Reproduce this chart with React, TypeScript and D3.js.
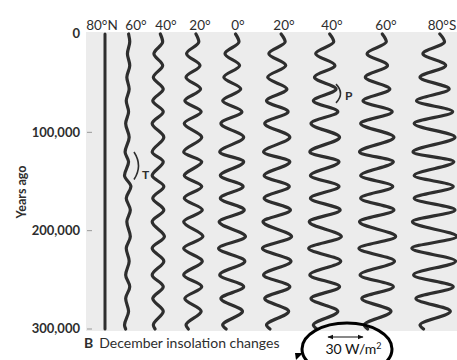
import React from "react";
import * as d3 from "d3";

// ---- Data (thousands of years ago, turning points shared by all latitudes) ----
const turnYears = [0, 8, 20, 32, 44, 56, 68, 79, 91, 105, 120, 130, 144, 155, 167, 179, 191, 206, 218, 231, 245, 257, 269, 282, 296, 300];

const latitudeLabels = ["80°N", "60°", "40°", "20°", "0°", "20°", "40°", "60°", "80°S"];

// December insolation anomaly at each turning point (W/m²)
const lat80N = [0, 0, 0, 0, 0, 0, 0, 0, 0, 0, 0, 0, 0, 0, 0, 0, 0, 0, 0, 0, 0, 0, 0, 0, 0, 0];
const lat60N = [0.5, 1.5, -0.5, 1.5, -1, 1, -1.5, 0.5, -2, 1, -2.5, 0.5, -3, 2.5, -1.5, 2, -1, 2, -1.5, 1, -2, 1.5, -2, 0.5, -3, -2];
const lat40N = [2, 4, -3.5, 4, -4, 4.5, -4.5, 4.5, -5, 5, -5, 4.5, -5, 5, -4.5, 5, -5, 5.5, -5, 5, -5, 4.5, -4.5, 4.5, -4, -2.5];
const lat20N = [2.5, 5, -5.5, 6, -6, 6.5, -7, 7, -7.5, 7.5, -8, 7.5, -7.5, 7.5, -7.5, 8, -8, 8.5, -8, 8, -8, 7.5, -7, 7, -6, -4];
const lat0 = [3, 6, -6, 6.5, -7, 7.5, -8, 8.5, -9.5, 10, -10.5, 10, -10, 9.5, -10, 10.5, -11, 11.5, -11.5, 11, -10.5, 10, -9.5, 9, -8, -5];
const lat20S = [3.5, 7, -7, 7.5, -8, 8.5, -9, 9.5, -10.5, 11, -11.5, 11, -11, 10.5, -11, 11.5, -12, 12.5, -12.5, 12, -11.5, 11, -10.5, 10, -9, -6];
const lat40S = [4, 7.5, -8, 8.5, -9, 9.5, -10, 11, -12, 12.5, -13, 12, -12.5, 12, -12.5, 13, -13.5, 14, -14, 13.5, -13, 12.5, -12, 11, -10, -7];
const lat60S = [4.5, 8, -8.5, 9, -10, 11, -12, 13, -14, 14.5, -15, 14, -14, 13.5, -14, 14.5, -15, 16, -15.5, 15, -14.5, 14, -13, 12, -11, -8];
const lat80S = [5, 9, -9.5, 10, -12, 13, -15, 16, -17, 18, -18, 17, -17, 16.5, -17, 18, -18.5, 19.5, -19, 18.5, -17.5, 16.5, -15.5, 14, -12, -9];

const series = [lat80N, lat60N, lat40N, lat20N, lat0, lat20S, lat40S, lat60S, lat80S];

const yTicks = [0, 100000, 200000, 300000];
const scaleValue = 30; // W/m²

// ---- Layout ----
const W = 457;
const H = 360;
const columnX = [105, 128, 158, 193, 232, 277, 325, 377, 434];
const labelX = [102, 136, 166, 200, 238, 284, 332, 386, 442];
const FONT = "Lato, 'Open Sans', sans-serif";
const INK = "#2e2e2e";

export default function App() {
  const y = d3.scaleLinear().domain([0, 300000]).range([34, 329]);
  const x = d3.scaleLinear().domain([0, 30]).range([0, 35]);

  const makeLine = (cx: number) =>
    d3
      .line<[number, number]>()
      .x((d) => cx + x(d[1]))
      .y((d) => y(d[0] * 1000))
      .curve(d3.curveMonotoneY);

  const bracket = (bx: number, y0: number, y1: number, bulge: number) => {
    const a = y(y0 * 1000);
    const b = y(y1 * 1000);
    return `M${bx},${a} Q${bx + bulge},${(a + b) / 2} ${bx},${b}`;
  };

  const arrowY = 337;
  const ax0 = 328;
  const ax1 = ax0 + (x(scaleValue) - x(0));

  return (
    <svg
      width={W}
      height={H}
      style={{ position: "absolute", left: 0, top: 0, background: "#fff" }}
      fontFamily={FONT}
    >
      <defs>
        <marker id="ah" viewBox="0 0 10 10" refX="9" refY="5" markerWidth="5" markerHeight="5" orient="auto-start-reverse">
          <path d="M0,1 L10,5 L0,9 z" fill="#111" />
        </marker>
      </defs>

      {/* plot background */}
      <rect x={86} y={32} width={W - 86} height={299} fill="#ececec" />

      {/* y axis ticks & labels */}
      {yTicks.map((t) => (
        <g key={t}>
          {t > 0 && <line x1={87} x2={92} y1={y(t)} y2={y(t)} stroke="#999" strokeWidth={1} />}
          <text
            x={80}
            y={y(t) + 1}
            textAnchor="end"
            dominantBaseline="middle"
            fontSize={13}
            fontWeight={700}
            fill={INK}
          >
            {d3.format(",")(t)}
          </text>
        </g>
      ))}
      <text
        transform={`translate(26, 192) rotate(-90)`}
        textAnchor="middle"
        fontSize={12.5}
        fontWeight={700}
        fill={INK}
      >
        Years ago
      </text>

      {/* latitude labels */}
      {latitudeLabels.map((l, i) => (
        <text key={i} x={labelX[i]} y={30} textAnchor="middle" fontSize={13.5} fill={INK}>
          {l}
        </text>
      ))}

      {/* curves */}
      {series.map((vals, i) => {
        const pts: [number, number][] = turnYears.map((t, j) => [t, vals[j]]);
        return (
          <path
            key={i}
            d={makeLine(columnX[i])(pts) || ""}
            fill="none"
            stroke={INK}
            strokeWidth={i === 0 ? 3 : 3.2}
            strokeLinecap="round"
          />
        );
      })}

      {/* T and P annotations */}
      <path d={bracket(134, 120, 148, 9)} fill="none" stroke={INK} strokeWidth={1.6} />
      <text x={142} y={179} fontSize={12} fontWeight={700} fill={INK}>T</text>
      <path d={bracket(336, 51, 70, 9)} fill="none" stroke={INK} strokeWidth={1.6} />
      <text x={345} y={100} fontSize={12} fontWeight={700} fill={INK}>P</text>

      {/* caption */}
      <text x={84} y={348} fontSize={14} fill={INK}>
        <tspan fontWeight={700}>B</tspan>
        <tspan dx={6}>December insolation changes</tspan>
      </text>

      {/* scale legend */}
      <line x1={ax0} x2={ax1} y1={arrowY} y2={arrowY} stroke="#111" strokeWidth={1.2} markerStart="url(#ah)" markerEnd="url(#ah)" />
      <text x={(ax0 + ax1) / 2 + 8} y={354} textAnchor="middle" fontSize={14} fill="#111">
        30 W/m<tspan dy={-5} fontSize={9}>2</tspan>
      </text>
      <ellipse cx={347} cy={349} rx={45} ry={26} fill="none" stroke="#000" strokeWidth={3} />
      <path d="M295,353 L303,353 L296,360 z" fill="#000" />
    </svg>
  );
}
